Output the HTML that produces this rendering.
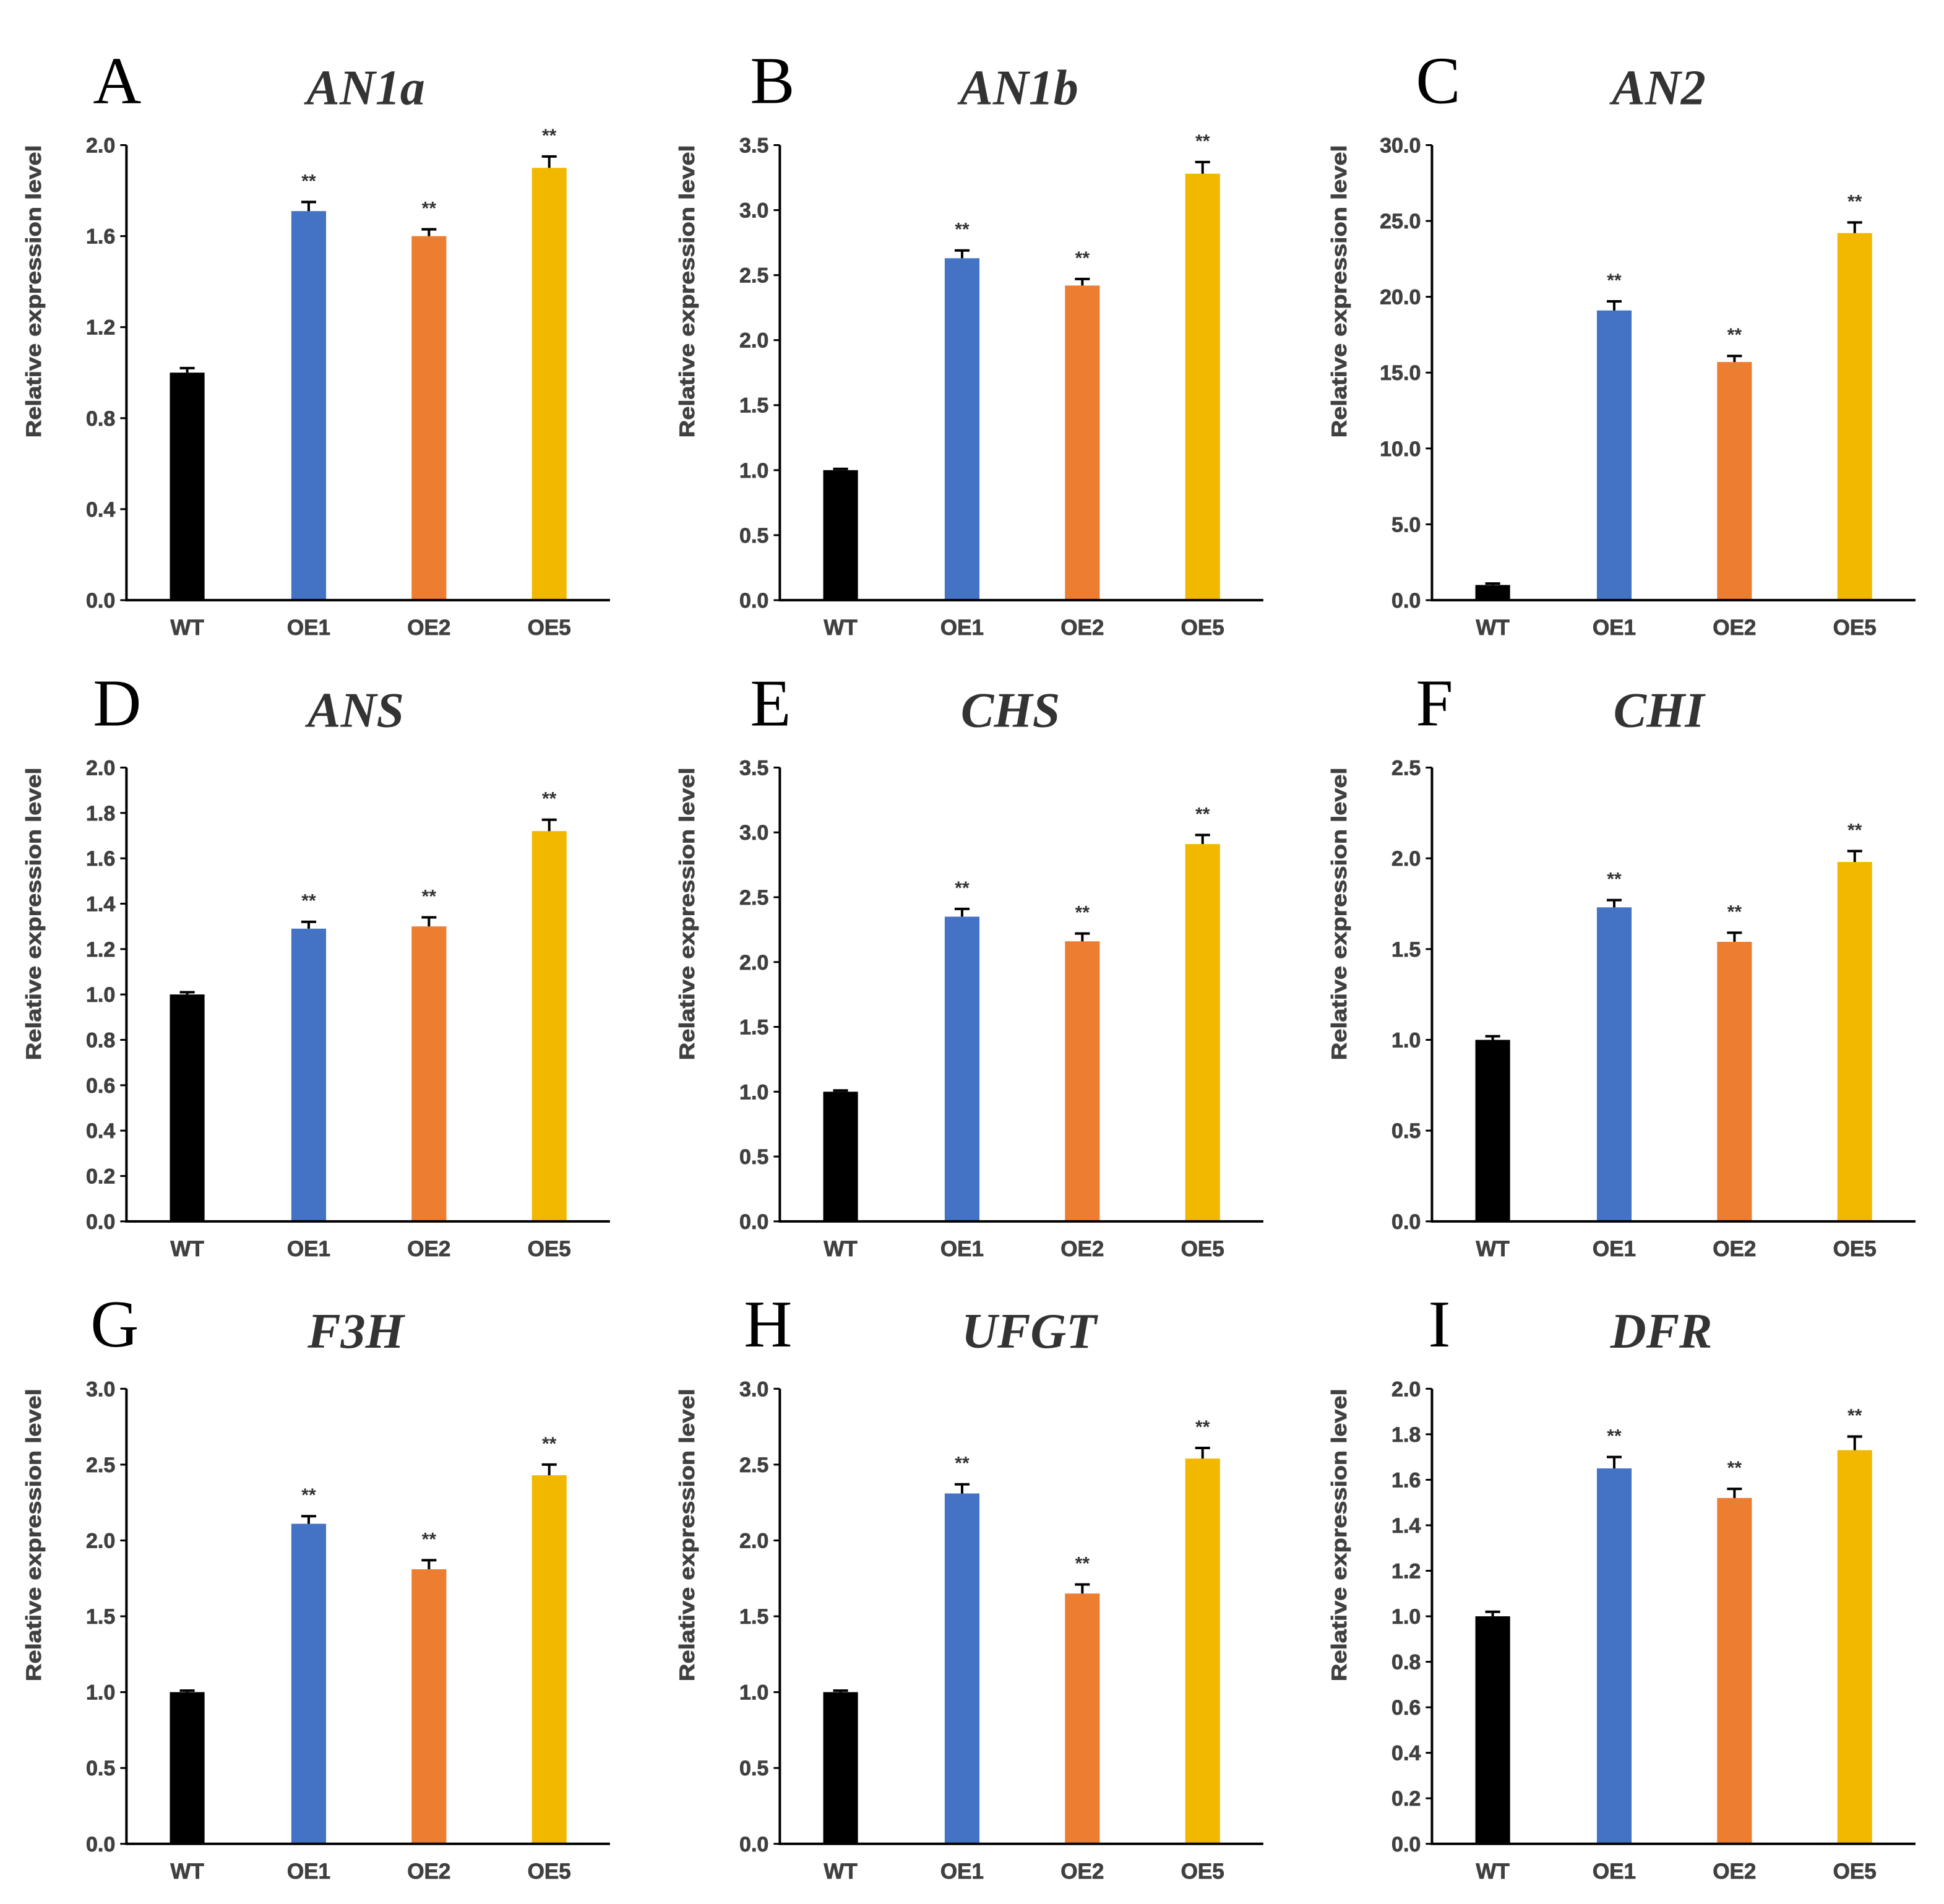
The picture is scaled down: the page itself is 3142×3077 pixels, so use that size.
<!DOCTYPE html>
<html><head><meta charset="utf-8"><style>
html,body{margin:0;padding:0;background:#fff;}
svg{display:block;}
</style></head><body>
<svg id="fig" xmlns="http://www.w3.org/2000/svg" width="3142" height="3077" viewBox="0 0 1568 1535.5"></svg>
<script>
const categories = ["WT","OE1","OE2","OE5"];
const colors = ["#000000","#4472C4","#ED7D31","#F2B800"];
const panelLetters = ["A","B","C","D","E","F","G","H","I"];
const geneTitles = ["AN1a","AN1b","AN2","ANS","CHS","CHI","F3H","UFGT","DFR"];
const yMax = [2.0,3.5,30,2.0,3.5,2.5,3.0,3.0,2.0];
const yStep = [0.4,0.5,5,0.2,0.5,0.5,0.5,0.5,0.2];
const valA=[1.0,1.71,1.60,1.90], errA=[0.02,0.04,0.03,0.05];
const valB=[1.0,2.63,2.42,3.28], errB=[0.01,0.06,0.05,0.09];
const valC=[1.0,19.1,15.7,24.2], errC=[0.1,0.6,0.4,0.7];
const valD=[1.0,1.29,1.30,1.72], errD=[0.01,0.03,0.04,0.05];
const valE=[1.0,2.35,2.16,2.91], errE=[0.01,0.06,0.06,0.07];
const valF=[1.0,1.73,1.54,1.98], errF=[0.02,0.04,0.05,0.06];
const valG=[1.0,2.11,1.81,2.43], errG=[0.01,0.05,0.06,0.07];
const valH=[1.0,2.31,1.65,2.54], errH=[0.01,0.06,0.06,0.07];
const valI=[1.0,1.65,1.52,1.73], errI=[0.02,0.05,0.04,0.06];
const sig = [false,true,true,true];
const allVals=[valA,valB,valC,valD,valE,valF,valG,valH,valI];
const allErrs=[errA,errB,errC,errD,errE,errF,errG,errH,errI];

const NS="http://www.w3.org/2000/svg";
const svg=document.getElementById('fig');
function mk(tag,attrs,parent,text){const e=document.createElementNS(NS,tag);for(const k in attrs)e.setAttribute(k,attrs[k]);if(text!==undefined)e.textContent=text;(parent||svg).appendChild(e);return e;}
const colOff=[0,527,1053];
const rowTop=[117,619,1120], rowZero=[484,985,1487];
const letterX=[[75,605,1142],[75,605,1142],[73,600,1152]];
const titleX=[[295,822,1338],[287,815,1338],[287,830,1340]];
const slots=[151,249,346,443];
const gray="#404040";
for(let p=0;p<9;p++){
  const r=Math.floor(p/3), c=p%3, ox=colOff[c];
  const g=mk('g',{});
  
  
  const top=rowTop[r], zero=rowZero[r], ax=102+ox, right=492+ox;
  const yS=v=>zero-(v/yMax[p])*(zero-top);
  const xS=i=>slots[i]+ox;
  const L=mk('text',{x:letterX[r][c],y:top-34,'font-family':'Liberation Serif, serif','font-size':54,fill:'#000'},g,panelLetters[p]);
  
  const T=mk('text',{x:titleX[r][c],y:top-33,'text-anchor':'middle','font-family':'Liberation Serif, serif','font-size':40,'font-style':'italic','font-weight':'bold',fill:'#333'},g,geneTitles[p]);
  
  const yl=mk('text',{x:0,y:0,transform:`translate(${33+ox},${top+118}) rotate(-90)`,'text-anchor':'middle','font-family':'Liberation Sans, sans-serif','font-size':17,'font-weight':'bold',fill:gray,'stroke':gray,'stroke-width':0.4,textLength:236,lengthAdjust:'spacingAndGlyphs'},g,'Relative expression level');
  
  const n=Math.round(yMax[p]/yStep[p]);
  for(let k=0;k<=n;k++){
    const v=k*yStep[p], y=yS(v);
    const tk=mk('line',{x1:ax-5,x2:ax,y1:y,y2:y,stroke:'#000','stroke-width':1.5},g);
    
    const tl=mk('text',{x:ax-9,y:y+6,'text-anchor':'end','font-family':'Liberation Sans, sans-serif','font-size':17,'font-weight':'bold',fill:gray,'stroke':gray,'stroke-width':0.4},g,v.toFixed(1));
    
  }
  const vals=allVals[p], errs=allErrs[p];
  for(let i=0;i<4;i++){
    const cx=xS(i), yt=yS(vals[i]), ye=yS(vals[i]+errs[i]);
    const b=mk('rect',{x:cx-14,y:yt,width:28,height:zero-yt,fill:colors[i]},g);
    
    const e=mk('path',{d:`M${cx},${yt}V${ye}M${cx-6},${ye}H${cx+6}`,stroke:'#000','stroke-width':2,fill:'none'},g);
    
    if(sig[i]){
      const s=mk('text',{x:cx,y:ye-12,'text-anchor':'middle','font-family':'Liberation Sans, sans-serif','font-size':15,'font-weight':'bold',fill:'#333'},g,'**');
      
    }
    const xl=mk('text',{x:cx,y:zero+28,'text-anchor':'middle','font-family':'Liberation Sans, sans-serif','font-size':17.5,'font-weight':'bold',fill:gray,'stroke':gray,'stroke-width':0.4},g,categories[i]);
    
  }
  const axes=mk('path',{d:`M${ax},${top}V${zero}H${right}`,stroke:'#000','stroke-width':2,fill:'none'},g);
  
}
</script>
</body></html>
